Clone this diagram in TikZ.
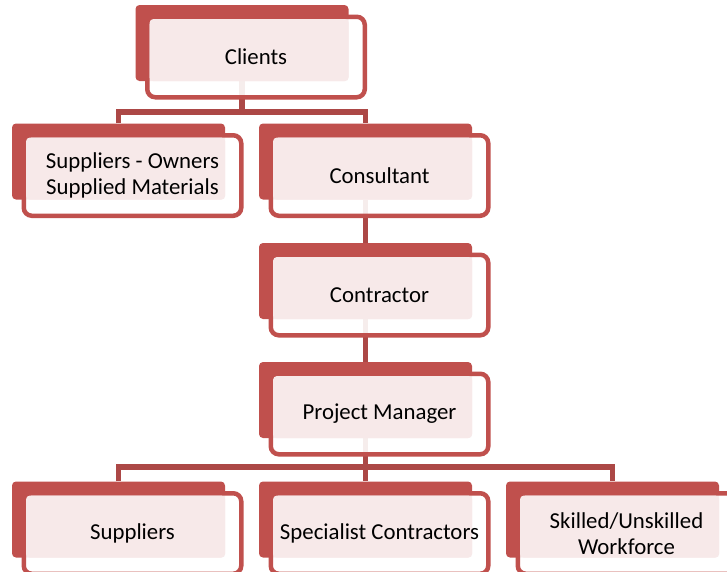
\documentclass[tikz,border=0pt]{standalone}
\usepackage{fontspec}
\setmainfont{Carlito}
\usetikzlibrary{calc}

\definecolor{boxred}{RGB}{192,80,77}
\definecolor{linkred}{RGB}{172,72,70}
\definecolor{boxpink}{RGB}{247,233,233}

\tikzset{
  backbox/.style={fill=boxred, rounded corners=4pt, minimum width=213pt, minimum height=76pt, inner sep=0pt},
  frontbox/.style={draw=boxred, line width=4.5pt, fill=white, fill opacity=0.9, rounded corners=8pt,
    minimum width=217.5pt, minimum height=80.5pt, inner sep=0pt},
  boxtext/.style={font=\fontsize{22.8}{26}\selectfont, align=center, inner sep=0pt},
  link/.style={draw=linkred, line width=5.5pt},
}

\begin{document}
\begin{tikzpicture}[x=1pt,y=-1pt]
            \clip (0,0) rectangle (727,571);

            %back boxes
            \node[backbox] (clientsB) at (242,43) {};
            \node[backbox] (ownersB) at (118.5,161.5) {};
            \node[backbox] (consultB) at (365.5,161.5) {};
            \node[backbox] (contractB) at (365.5,281) {};
            \node[backbox] (pmB) at (365.5,400) {};
            \node[backbox] (suppB) at (118.5,519.5) {};
            \node[backbox] (specB) at (365.5,519.5) {};
            \node[backbox] (skillB) at (612.5,519.5) {};

            %connectors
            \coordinate (busA) at (242,112);
            \draw[link] (clientsB.south) -- (busA);
            \draw[link] (ownersB.north) |- (busA) -| (consultB.north);

            \draw[link] (consultB.south) -- (contractB.north);
            \draw[link] (contractB.south) -- (pmB.north);

            \coordinate (busB) at (365.5,467);
            \draw[link] (pmB.south) -- (busB);
            \draw[link] (suppB.north) |- (busB) -| (skillB.north);
            \draw[link] (busB) -- (specB.north);

            %front boxes
            \node[frontbox] (clientsF) at ($(clientsB)+(14,14)$) {};
            \fill[boxpink, rounded corners=4pt] ($(clientsB)+(-92.5,-24)$) rectangle (clientsB.south east);
            \node[boxtext] (clientsT) at (clientsF) {Clients};

            \node[frontbox] (ownersF) at ($(ownersB)+(14,14)$) {};
            \fill[boxpink, rounded corners=4pt] ($(ownersB)+(-92.5,-24)$) rectangle (ownersB.south east);
            \node[boxtext] (ownersT) at (ownersF) {Suppliers - Owners\\Supplied Materials};

            \node[frontbox] (consultF) at ($(consultB)+(14,14)$) {};
            \fill[boxpink, rounded corners=4pt] ($(consultB)+(-92.5,-24)$) rectangle (consultB.south east);
            \node[boxtext] (consultT) at (consultF) {Consultant};

            \node[frontbox] (contractF) at ($(contractB)+(14,14)$) {};
            \fill[boxpink, rounded corners=4pt] ($(contractB)+(-92.5,-24)$) rectangle (contractB.south east);
            \node[boxtext] (contractT) at (contractF) {Contractor};

            \node[frontbox] (pmF) at ($(pmB)+(14,14)$) {};
            \fill[boxpink, rounded corners=4pt] ($(pmB)+(-92.5,-24)$) rectangle (pmB.south east);
            \node[boxtext] (pmT) at (pmF) {Project Manager};

            \node[frontbox] (suppF) at ($(suppB)+(14,14)$) {};
            \fill[boxpink, rounded corners=4pt] ($(suppB)+(-92.5,-24)$) rectangle (suppB.south east);
            \node[boxtext] (suppT) at (suppF) {Suppliers};

            \node[frontbox] (specF) at ($(specB)+(14,14)$) {};
            \fill[boxpink, rounded corners=4pt] ($(specB)+(-92.5,-24)$) rectangle (specB.south east);
            \node[boxtext] (specT) at (specF) {Specialist Contractors};

            \node[frontbox] (skillF) at ($(skillB)+(14,14)$) {};
            \fill[boxpink, rounded corners=4pt] ($(skillB)+(-92.5,-24)$) rectangle (skillB.south east);
            \node[boxtext] (skillT) at (skillF) {Skilled/Unskilled\\Workforce};
\end{tikzpicture}
\end{document}
